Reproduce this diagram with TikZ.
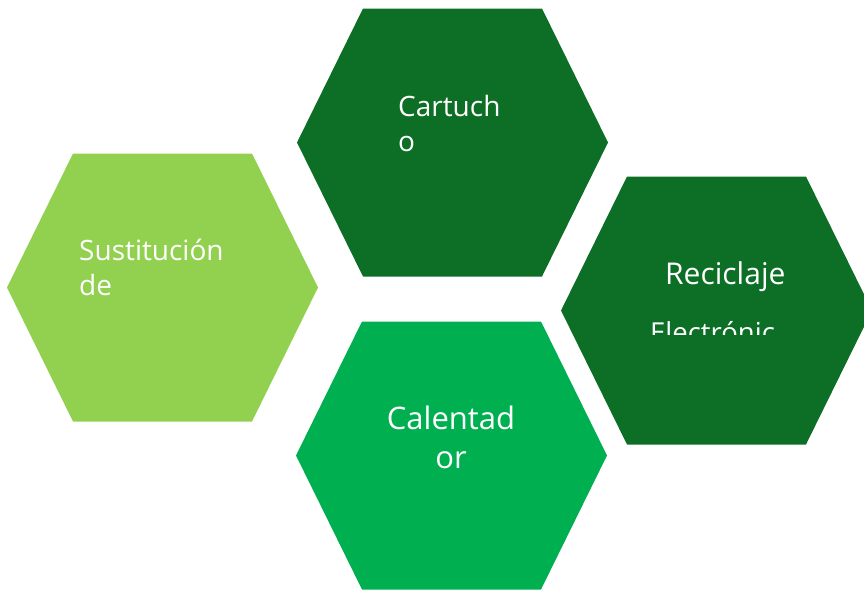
\documentclass[tikz,border=0pt]{standalone}
\usepackage{fontspec}
\setmainfont{Open Sans}
\definecolor{verdeclaro}{HTML}{92D050}
\definecolor{verdeoscuro}{HTML}{0D6F25}
\definecolor{verdemedio}{HTML}{00AF50}
% hexagon: centre x, centre y, colour
\newcommand{\hexa}[3]{%
  \fill[#3] ({#1-155.5},#2) -- ({#1-89.5},{#2-134}) -- ({#1+89.5},{#2-134})
    -- ({#1+155.5},#2) -- ({#1+89.5},{#2+134}) -- ({#1-89.5},{#2+134}) -- cycle;}

\begin{document}
\begin{tikzpicture}[x=1pt,y=-1pt]
				\tikzstyle{rotulo}=[text=white,inner sep=0pt,font=\fontsize{28}{35}\selectfont]
				\tikzstyle{grande}=[rotulo,font=\fontsize{31}{39}\selectfont]
				\useasboundingbox (0,0) rectangle (864,590);
				\begin{scope}
					\clip (0,0) rectangle (864,590);
					\hexa{162.5}{287.5}{verdeclaro}
					\hexa{452.5}{142.5}{verdeoscuro}
					\hexa{716.5}{310.5}{verdeoscuro}
					\hexa{451.5}{455.5}{verdemedio}
				\end{scope}
				\node[rotulo,anchor=base west](s1) at (79,260){Sustitución};
				\node[rotulo,anchor=base west](s2) at (79,295){de};
				\node[rotulo,anchor=base west](c1) at (398,116){Cartuch};
				\node[rotulo,anchor=base west](c2) at (398,151){o};
				\node[rotulo,font=\fontsize{30}{36}\selectfont,anchor=base west](r1) at (665,284){Reciclaje};
				\begin{scope}
					\clip (640,300) rectangle (800,334);
					\node[rotulo,font=\fontsize{27.5}{36}\selectfont,anchor=base west](r2) at (650,342){Electrónic};
				\end{scope}
				\node[grande,anchor=base](k1) at (451,429){Calentad};
				\node[grande,anchor=base](k2) at (451,468){or};
\end{tikzpicture}
\end{document}
